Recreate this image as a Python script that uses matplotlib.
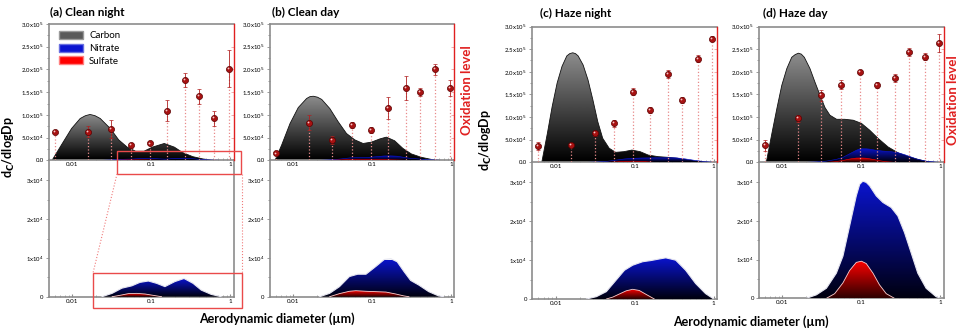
"""
Size-resolved carbon / nitrate / sulfate distributions with oxidation level
"""

import numpy as np
import matplotlib
matplotlib.use('Agg')
import matplotlib.pyplot as plt
from matplotlib.colors import LinearSegmentedColormap
from matplotlib.patches import Polygon, Rectangle, Patch
from matplotlib.lines import Line2D
from matplotlib.ticker import NullFormatter, LogLocator
from matplotlib.transforms import offset_copy

plt.rcParams['font.family'] = ['Lato', 'DejaVu Sans']

# -------------------------------------------- #
titles = ['(a) Clean night', '(b) Clean day', '(c) Haze night', '(d) Haze day']

# carbon, dC/dlogDp in units of 1e5
carbon_d = [
    [0.00555, 0.0073, 0.0098, 0.0126, 0.0146, 0.0168, 0.0195, 0.0226, 0.0303, 0.0387,
     0.0496, 0.0634, 0.081, 0.1035, 0.146, 0.196, 0.25, 0.336, 0.45, 0.61],
    [0.00588, 0.00714, 0.0091, 0.01156, 0.01475, 0.0162, 0.0179, 0.0202, 0.0229, 0.029,
     0.037, 0.0472, 0.0601, 0.0766, 0.0977, 0.1245, 0.151, 0.192, 0.245, 0.313, 0.418,
     0.558, 0.71],
    [0.00665, 0.00783, 0.009, 0.0104, 0.012, 0.0138, 0.015, 0.0164, 0.0178, 0.0192,
     0.0222, 0.0256, 0.0295, 0.034, 0.0393, 0.0475, 0.0574, 0.0728, 0.092, 0.117, 0.148,
     0.197, 0.262, 0.348, 0.463, 0.617],
    [0.00624, 0.00735, 0.0085, 0.0098, 0.01135, 0.0131, 0.0145, 0.0159, 0.0173, 0.0189,
     0.0223, 0.0258, 0.0299, 0.0345, 0.0399, 0.0485, 0.0617, 0.0785, 0.1, 0.127, 0.162,
     0.217, 0.29, 0.387, 0.517, 0.66, 0.8],
]
carbon_v = [
    [0, 0.34, 0.70, 0.92, 0.98, 1.01, 0.98, 0.92, 0.70, 0.45, 0.29, 0.20, 0.20, 0.29,
     0.37, 0.29, 0.17, 0.08, 0.03, 0],
    [0, 0.34, 0.81, 1.16, 1.36, 1.40, 1.41, 1.39, 1.34, 1.14, 0.85, 0.59, 0.45, 0.37,
     0.40, 0.47, 0.51, 0.43, 0.26, 0.14, 0.066, 0.02, 0],
    [0, 0.64, 1.23, 1.75, 2.12, 2.35, 2.40, 2.42, 2.40, 2.35, 2.15, 1.82, 1.38, 0.90,
     0.53, 0.31, 0.22, 0.235, 0.27, 0.235, 0.16, 0.125, 0.11, 0.09, 0.035, 0],
    [0, 0.64, 1.19, 1.70, 2.07, 2.32, 2.38, 2.41, 2.39, 2.32, 2.07, 1.77, 1.48, 1.21,
     1.04, 0.95, 0.95, 0.93, 0.86, 0.71, 0.53, 0.34, 0.21, 0.125, 0.066, 0.02, 0],
]

# nitrate, dC/dlogDp in units of 1e4
nitrate_d = [
    [0.0238, 0.0319, 0.0425, 0.0567, 0.072, 0.092, 0.117, 0.149, 0.199, 0.26, 0.338,
     0.43, 0.574, 0.766],
    [0.0216, 0.0289, 0.0385, 0.0514, 0.0654, 0.0833, 0.111, 0.142, 0.172, 0.207, 0.252,
     0.306, 0.389, 0.519, 0.693, 0.8],
    [0.0245, 0.0327, 0.0437, 0.0583, 0.0741, 0.0942, 0.126, 0.16, 0.204, 0.247, 0.33,
     0.441, 0.589, 0.787, 1.0],
    [0.0201, 0.0269, 0.036, 0.0481, 0.0583, 0.0708, 0.086, 0.095, 0.104, 0.115, 0.127,
     0.154, 0.187, 0.238, 0.289, 0.351, 0.427, 0.517, 0.659, 0.883, 1.01],
]
nitrate_v = [
    [0, 0.086, 0.22, 0.28, 0.37, 0.405, 0.345, 0.26, 0.39, 0.47, 0.345, 0.17, 0.06, 0],
    [0, 0.087, 0.26, 0.52, 0.58, 0.58, 0.78, 0.96, 0.98, 0.90, 0.65, 0.42, 0.30, 0.13,
     0.02, 0],
    [0, 0.06, 0.19, 0.49, 0.74, 0.87, 0.96, 0.99, 1.03, 1.06, 1.0, 0.74, 0.40, 0.14, 0],
    [0, 0.09, 0.26, 0.65, 1.09, 1.87, 2.65, 2.95, 3.03, 3.0, 2.91, 2.65, 2.48, 2.35,
     2.13, 1.70, 1.17, 0.65, 0.26, 0.04, 0],
]

# sulfate, dC/dlogDp in units of 1e4
sulfate_d = [
    [0.032, 0.04, 0.0515, 0.0656, 0.0834, 0.106, 0.135],
    [0.0289, 0.0385, 0.0514, 0.062, 0.0833, 0.111, 0.149, 0.198, 0.252, 0.291],
    [0.0437, 0.0528, 0.064, 0.0778, 0.094, 0.114, 0.139, 0.177],
    [0.036, 0.0458, 0.0583, 0.0708, 0.086, 0.1, 0.115, 0.14, 0.169, 0.206, 0.262],
]
sulfate_v = [
    [0, 0.035, 0.08, 0.086, 0.07, 0.035, 0],
    [0, 0.08, 0.14, 0.155, 0.14, 0.13, 0.12, 0.07, 0.02, 0],
    [0, 0.05, 0.13, 0.21, 0.25, 0.22, 0.12, 0],
    [0, 0.12, 0.40, 0.72, 0.93, 0.96, 0.90, 0.65, 0.35, 0.12, 0],
]

# oxidation level (arbitrary units, right axis)
ox_d = [0.006, 0.0158, 0.031, 0.055, 0.096, 0.157, 0.265, 0.40, 0.63, 0.96]
ox_v = [
    [0.62, 0.63, 0.68, 0.33, 0.37, 1.09, 1.77, 1.41, 0.925, 2.02],
    [0.15, 0.83, 0.44, 0.77, 0.67, 1.15, 1.59, 1.50, 2.0, 1.59],
    [0.36, 0.39, 0.64, 0.86, 1.56, 1.16, 1.95, 1.38, 2.29, 2.73],
    [0.38, 0.97, 1.48, 1.71, 2.0, 1.71, 1.86, 2.44, 2.33, 2.64],
]
ox_err = [
    [0.02, 0.12, 0.2, 0.05, 0.03, 0.23, 0.16, 0.17, 0.165, 0.41],
    [0.03, 0.17, 0.09, 0.07, 0.07, 0.24, 0.27, 0.09, 0.12, 0.18],
    [0.08, 0.03, 0.05, 0.07, 0.08, 0.06, 0.09, 0.07, 0.07, 0.05],
    [0.12, 0.07, 0.12, 0.1, 0.04, 0.07, 0.09, 0.09, 0.08, 0.2],
]

top_ticks = [0, 5e4, 1e5, 1.5e5, 2e5, 2.5e5, 3e5]
top_ticklabels = ['0.0', '5.0x10$^4$', '1.0x10$^5$', '1.5x10$^5$', '2.0x10$^5$',
                  '2.5x10$^5$', '3.0x10$^5$']
bot_ticks = [0, 1e4, 2e4, 3e4]
bot_ticklabels = ['0', '1x10$^4$', '2x10$^4$', '3x10$^4$']
# -------------------------------------------- #

W, H = 960, 331
fig = plt.figure(figsize=(9.6, 3.31), dpi=100)

def fx(px):
    return px / W

def fy(py):
    return 1 - py / H

GRAY = '#8c8c8c'
RED = '#e02020'


def grad_fill(ax, x, y, top, bottom, edge, lw, z):
    x = np.asarray(x, float)
    y = np.asarray(y, float)
    verts = np.column_stack([np.r_[x, x[::-1]], np.r_[y, np.zeros_like(y)]])
    poly = Polygon(verts, closed=True, facecolor='none', edgecolor='none',
                   transform=ax.transData)
    ax.add_patch(poly)
    cmap = LinearSegmentedColormap.from_list('g', [bottom, top])
    grad = np.linspace(0, 1, 256).reshape(-1, 1)
    im = ax.imshow(grad, cmap=cmap, aspect='auto', origin='lower',
                   extent=[x[0], x[-1], 0, y.max()], zorder=z,
                   interpolation='bilinear')
    im.set_clip_path(poly)
    ax.plot(x, y, color=edge, lw=lw, zorder=z + 0.1)


def style_x(ax):
    ax.set_xscale('log')
    ax.set_xlim(0.005, 1.1)
    ax.set_xticks([0.01, 0.1, 1])
    ax.set_xticklabels(['0.01', '0.1', '1'])
    ax.xaxis.set_minor_locator(LogLocator(base=10, subs=np.arange(2, 10)))
    ax.xaxis.set_minor_formatter(NullFormatter())
    ax.tick_params(axis='x', which='both', direction='in', color=GRAY,
                   labelsize=4.5, pad=1.5)
    ax.tick_params(axis='x', which='major', length=2.5, width=0.8)
    ax.tick_params(axis='x', which='minor', length=1.5, width=0.5)
    ax.tick_params(axis='y', which='both', direction='out', color=GRAY,
                   labelsize=4.3, pad=1.5, length=2, width=0.6)


# panel geometry in pixels: left, top of upper, split, bottom of lower
layout = [(48.5, 24, 160.3, 296.7), (269.5, 24, 160.3, 296.7),
          (532, 26.5, 162.3, 299), (758.7, 26.5, 162.3, 298.3)]
AXW = 185

top_axes = []
for i, (l, tt, tb, bb) in enumerate(layout):
    axb = fig.add_axes([fx(l), fy(bb), AXW / W, (bb - tb) / H])
    axt = fig.add_axes([fx(l), fy(tb), AXW / W, (tb - tt) / H])
    top_axes.append(axt)
    for ax in (axb, axt):
        ax.set_facecolor('none')

    # upper panel: carbon + (small) nitrate / sulfate
    grad_fill(axt, carbon_d[i], np.array(carbon_v[i]) * 1e5, '#8e8e8e', '#000000',
              '#111111', 0.6, 2)
    grad_fill(axt, nitrate_d[i], np.array(nitrate_v[i]) * 1e4, '#0a14d0', '#000010',
              '#0a14d0', 0.4, 3)
    grad_fill(axt, sulfate_d[i], np.array(sulfate_v[i]) * 1e4, '#ff0000', '#300000',
              '#ff0000', 0.4, 4)
    style_x(axt)
    axt.set_ylim(0, 3.0e5)
    axt.set_yticks(top_ticks)
    axt.set_yticklabels(top_ticklabels)
    axt.set_yticks([2.5e4 + 5e4 * k for k in range(6)], minor=True)
    axt.tick_params(axis='y', which='minor', length=1.2)
    for s in ('left', 'top', 'bottom'):
        axt.spines[s].set_color(GRAY)
        axt.spines[s].set_linewidth(1.2)
    axt.spines['right'].set_visible(False)

    # oxidation level on a twin axis
    tw = axt.twinx()
    tw.set_ylim(0, 3.0)
    tw.vlines(ox_d, 0, ox_v[i], colors='#e88a8a', linestyles=':', lw=0.9, zorder=1)
    tw.errorbar(ox_d, ox_v[i], yerr=ox_err[i], fmt='o', ms=4.4, mfc='#a81212',
                mec='#5a0000', mew=0.5, ecolor='#b02020', elinewidth=0.6,
                capsize=1.3, capthick=0.5, zorder=3)
    shine = offset_copy(tw.transData, fig=fig, x=-0.7, y=0.7, units='points')
    tw.plot(ox_d, ox_v[i], 'o', ms=1.3, color='#f4c8c8', mew=0, transform=shine,
            zorder=4)
    tw.set_yticks([0.5, 1.0, 1.5, 2.0, 2.5])
    tw.tick_params(axis='y', labelright=False, direction='in', length=2,
                   color='#f0a0a0', width=0.6)
    for s in ('left', 'top', 'bottom'):
        tw.spines[s].set_visible(False)
    tw.spines['right'].set_color(RED)
    tw.spines['right'].set_linewidth(1.0)

    # lower panel: nitrate / sulfate zoom
    grad_fill(axb, nitrate_d[i], np.array(nitrate_v[i]) * 1e4, '#0a14d0', '#000010',
              '#e6e6f0', 0.8, 3)
    grad_fill(axb, sulfate_d[i], np.array(sulfate_v[i]) * 1e4, '#ff0000', '#300000',
              '#ffd0d0', 0.6, 4)
    style_x(axb)
    axb.set_ylim(0, 3.52e4)
    axb.set_yticks(bot_ticks)
    axb.set_yticklabels(bot_ticklabels)
    axb.set_yticks([5e3 + 1e4 * k for k in range(3)], minor=True)
    axb.tick_params(axis='y', which='minor', length=1.2)
    for s in ('left', 'right', 'bottom'):
        axb.spines[s].set_color(GRAY)
        axb.spines[s].set_linewidth(1.2)
    axb.spines['top'].set_visible(False)

# legend in panel (a)
handles = [Patch(facecolor='#5a5a5a', edgecolor='#9a9a9a', label='Carbon'),
           Patch(facecolor='#0a14d0', edgecolor='#6a70e0', label='Nitrate'),
           Patch(facecolor='#ff0000', edgecolor='#ff8080', label='Sulfate')]
top_axes[0].legend(handles=handles, loc='upper left', bbox_to_anchor=(0.02, 1.0),
                   frameon=False, fontsize=7, handlelength=2.5, handleheight=0.9,
                   labelspacing=0.35, borderaxespad=0.3, handletextpad=0.6)

# titles
for t, (x, y) in zip(titles, [(50, 12), (272, 12), (540, 13), (763, 13)]):
    fig.text(fx(x), fy(y), t, fontsize=8.5, fontweight='bold', ha='left', va='center')

# axis labels
for x, y in [(9, 147), (486, 140)]:
    fig.text(fx(x), fy(y), r'd$_{\mathbf{C}}$/dlogDp', fontsize=9, fontweight='bold',
             rotation=90, ha='center', va='center')
for x, y in [(277, 319), (751, 322)]:
    fig.text(fx(x), fy(y), 'Aerodynamic diameter (µm)', fontsize=9,
             fontweight='bold', ha='center', va='center')
for x, y in [(467, 90), (953, 100)]:
    fig.text(fx(x), fy(y), 'Oxidation level', fontsize=9.5, fontweight='bold',
             color=RED, rotation=90, ha='center', va='center')

# zoom boxes in panel (a)
box_col = '#ea4a4a'
fig.add_artist(Rectangle((fx(117), fy(174)), (241 - 117) / W, (174 - 151) / H,
                         transform=fig.transFigure, fill=False, ec=box_col, lw=1.0))
fig.add_artist(Rectangle((fx(93), fy(308)), (242 - 93) / W, (308 - 273) / H,
                         transform=fig.transFigure, fill=False, ec=box_col, lw=1.0))
fig.add_artist(Line2D([fx(117), fx(93)], [fy(174), fy(273)], transform=fig.transFigure,
                      color='#f07a7a', lw=0.8, ls=':'))
fig.add_artist(Line2D([fx(241.5), fx(241.5)], [fy(174), fy(273)],
                      transform=fig.transFigure, color='#f07a7a', lw=0.8, ls=':'))

plt.savefig('out.png', dpi=100)
